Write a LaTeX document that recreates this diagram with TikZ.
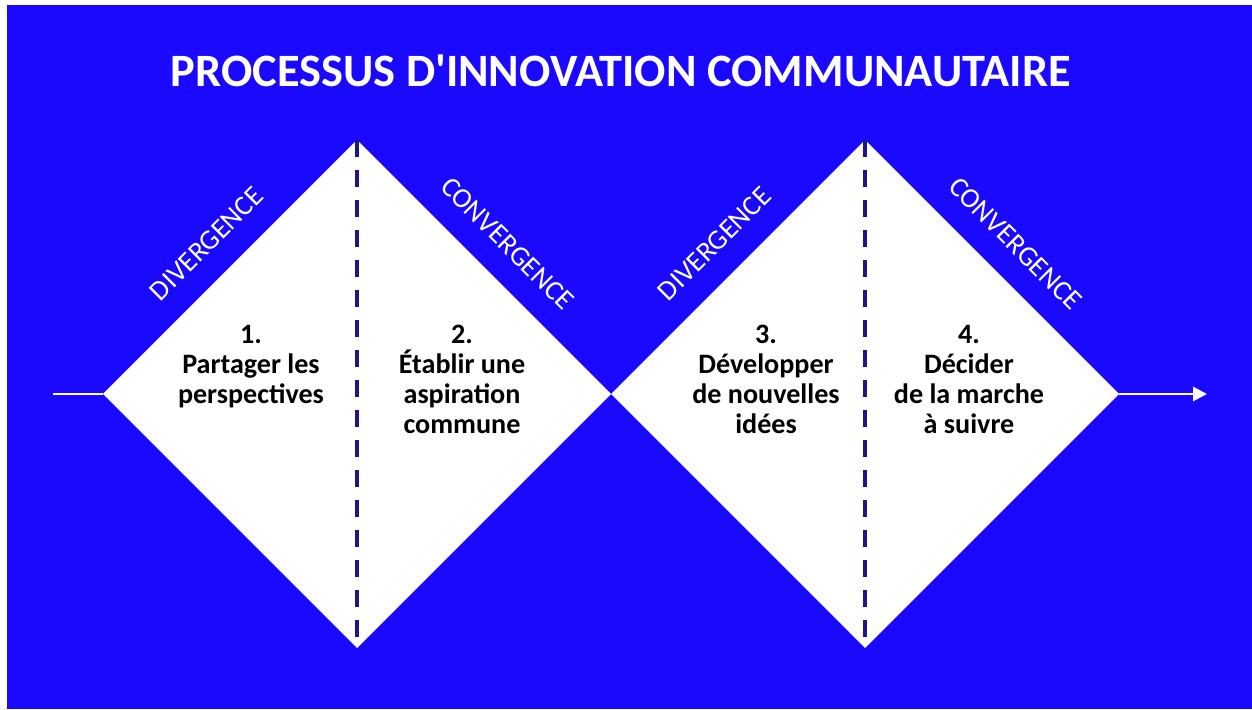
\documentclass[tikz,border=0pt]{standalone}
\usepackage{fontspec}
\setmainfont{Carlito}
\usetikzlibrary{arrows.meta}
\definecolor{fundo}{RGB}{26,8,255}
\definecolor{tracejado}{RGB}{30,22,135}
\tikzset{
  etapa/.style={font=\bfseries\fontsize{16}{17}\selectfont, align=center, anchor=north, inner sep=0pt, text=black},
  fase/.style={midway, sloped, above=0.47cm, inner sep=0pt, font=\fontsize{16}{16}\selectfont, text=white},
  eixo/.style={white, line width=1.7pt},
  divisao/.style={tracejado, line width=2.3pt, dash pattern=on 3.4mm off 2.6mm}
}
\begin{document}
\begin{tikzpicture}
\useasboundingbox (0,0) rectangle (25.04,14.18); %Tamanho da figura
\fill[white] (0,0) rectangle (25.04,14.18);
\fill[fundo] (0.14,0) rectangle (25.04,14.08); %Fundo azul
	%Titulo
\node[anchor=base, text=white, font=\bfseries\fontsize{26.4}{30}\selectfont] (titulo) at (12.42,12.44) {PROCESSUS D\textquotesingle INNOVATION COMMUNAUTAIRE};
	%Vertices dos losangos
\coordinate (inicio) at (1.06,6.30);
\coordinate (fim) at (24.14,6.30);
\coordinate (d1w) at (2.06,6.30);
\coordinate (d1n) at (7.14,11.38);
\coordinate (d1e) at (12.22,6.30);
\coordinate (d1s) at (7.14,1.22);
\coordinate (d2w) at (12.22,6.30);
\coordinate (d2n) at (17.30,11.38);
\coordinate (d2e) at (22.38,6.30);
\coordinate (d2s) at (17.30,1.22);
	%Losangos
\fill[white] (d1w) -- (d1n) -- (d1e) -- (d1s) -- cycle;
\fill[white] (d2w) -- (d2n) -- (d2e) -- (d2s) -- cycle;
\draw[divisao] (d1n) -- (d1s); %Linha tracejada 1
\draw[divisao] (d2n) -- (d2s); %Linha tracejada 2
	%Setas
\draw[eixo] (inicio) -- (d1w);
\draw[eixo, -{Triangle[length=2.8mm, width=2.8mm]}] (d2e) -- (fim);
	%Fases
\path (d1w) -- node[fase] (div1) {DIVERGENCE} (d1n);
\path (d1n) -- node[fase] (conv1) {CONVERGENCE} (d1e);
\path (d2w) -- node[fase] (div2) {DIVERGENCE} (d2n);
\path (d2n) -- node[fase] (conv2) {CONVERGENCE} (d2e);
	%Etapas
\node[etapa] (etapa1) at (5.02,7.68) {1.\\Partager les\\perspectives};
\node[etapa] (etapa2) at (9.24,7.68) {2.\\Établir une\\aspiration\\commune};
\node[etapa] (etapa3) at (15.32,7.68) {3.\\Développer\\de nouvelles\\idées};
\node[etapa] (etapa4) at (19.38,7.68) {4.\\Décider\\de la marche\\à suivre};
\end{tikzpicture}
\end{document}
